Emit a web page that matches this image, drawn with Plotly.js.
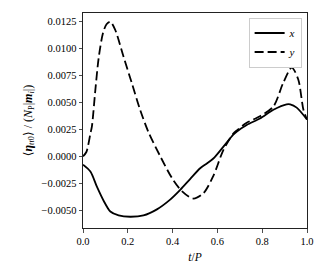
<!DOCTYPE html>
<html>
<head>
<meta charset="utf-8">
<script src="https://cdn.plot.ly/plotly-3.0.1.min.js"></script>
<style>
  html, body { margin: 0; padding: 0; background: #fff; }
  #chart { width: 327px; height: 276px; }
</style>
</head>
<body>
<div id="chart"></div>
<script>
// values (t/P, normalised eta)
const tX = [0, 0.033, 0.062, 0.092, 0.122, 0.159, 0.211, 0.27, 0.33, 0.389, 0.434, 0.478, 0.523, 0.55, 0.582, 0.627, 0.671, 0.687, 0.731, 0.79, 0.85, 0.909, 0.925, 0.954, 1.0];
const etaX = [-0.00077, -0.0014, -0.0028, -0.0041, -0.0051, -0.00546, -0.00558, -0.00546, -0.0049, -0.004, -0.0031, -0.0021, -0.0011, -0.0007, -0.0002, 0.0009, 0.002, 0.0023, 0.0029, 0.0035, 0.0043, 0.0048, 0.0048, 0.0045, 0.0034];

const tY = [0, 0.015, 0.033, 0.04, 0.055, 0.07, 0.089, 0.105, 0.122, 0.144, 0.181, 0.218, 0.255, 0.293, 0.345, 0.397, 0.441, 0.493, 0.538, 0.582, 0.627, 0.671, 0.687, 0.731, 0.79, 0.85, 0.894, 0.932, 0.961, 0.984, 1.0];
const etaY = [0.0, 0.0004, 0.0021, 0.0028, 0.0061, 0.0091, 0.01137, 0.0122, 0.01243, 0.01167, 0.0092, 0.00676, 0.0043, 0.0022, 0.0, -0.002, -0.0032, -0.0039, -0.0034, -0.0018, 0.0006, 0.0021, 0.0024, 0.0031, 0.0037, 0.0046, 0.0068, 0.0082, 0.0071, 0.0043, 0.0034];

const yTicks = [-0.005, -0.0025, 0, 0.0025, 0.005, 0.0075, 0.01, 0.0125];
const xTicks = [0, 0.2, 0.4, 0.6, 0.8, 1.0];

const font = { family: "Liberation Serif, DejaVu Serif, serif", size: 10.5, color: "#000" };

const traces = [
    {
        x: tX, y: etaX, type: "scatter", mode: "lines",
        name: "<i>x</i>",
        line: { color: "#000", width: 1.8, shape: "spline", smoothing: 0.8 },
    },
    {
        x: tY, y: etaY, type: "scatter", mode: "lines",
        name: "<i>y</i>",
        line: { color: "#000", width: 1.8, dash: "9px,4px", shape: "spline", smoothing: 0.8 },
    },
];

const axisCommon = {
    showgrid: false,
    zeroline: false,
    showline: true,
    mirror: true,
    linecolor: "#222",
    linewidth: 1,
    ticks: "outside",
    ticklen: 3.5,
    tickwidth: 0.8,
    tickcolor: "#222",
    tickfont: font,
};

const layout = {
    width: 327,
    height: 276,
    margin: { l: 83, r: 20, t: 13, b: 48 },
    paper_bgcolor: "#fff",
    plot_bgcolor: "#fff",
    font: font,
    showlegend: true,
    legend: {
        x: 0.976, xanchor: "right",
        y: 0.979, yanchor: "top",
        bgcolor: "rgba(255,255,255,0.8)",
        bordercolor: "#ccc",
        borderwidth: 1,
        font: { family: font.family, size: 11, color: "#000" },
        tracegroupgap: 0,
    },
    xaxis: Object.assign({}, axisCommon, {
        range: [0, 1],
        tickvals: xTicks,
        tickformat: ".1f",
        title: { text: "<i>t</i>/<i>P</i>", font: { family: font.family, size: 11.5 }, standoff: 6 },
    }),
    yaxis: Object.assign({}, axisCommon, {
        range: [-0.00662, 0.01324],
        tickvals: yTicks,
        tickformat: ".4f",
        title: {
            text: "⟨<b><i>η</i></b><sub><i>tt</i>0</sub>⟩ / (<i>N</i><sub>P</sub>|<b><i>m</i></b><sub><i>i</i></sub>|)",
            font: { family: font.family, size: 12 },
            standoff: 6,
        },
    }),
};

Plotly.newPlot("chart", traces, layout, { displayModeBar: false, staticPlot: true });
</script>
</body>
</html>
